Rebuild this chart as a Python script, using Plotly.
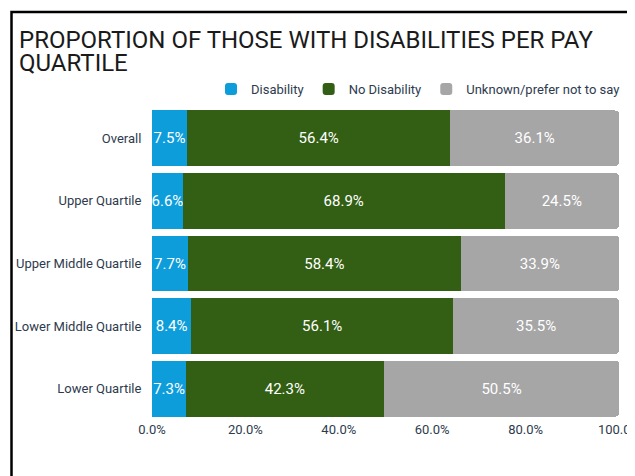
import plotly.graph_objects as go

categories = ["Overall", "Upper Quartile", "Upper Middle Quartile", "Lower Middle Quartile", "Lower Quartile"]
disability = [7.5, 6.6, 7.7, 8.4, 7.3]
no_disability = [56.4, 68.9, 58.4, 56.1, 42.3]
unknown = [36.1, 24.5, 33.9, 35.5, 50.5]
series_names = ["Disability", "No Disability", "Unknown/prefer not to say"]
colors = ["#0E9DDB", "#335F14", "#A6A6A6"]
x_ticks = [0, 20, 40, 60, 80, 100]
x_tick_labels = ["0.0%", "20.0%", "40.0%", "60.0%", "80.0%", "100.0%"]
title_lines = ["PROPORTION OF THOSE WITH DISABILITIES PER PAY", "QUARTILE"]

# the page body has an 8px margin, so the figure is 8px smaller than the window
OFF = 8
W, H = 635 - OFF, 476 - OFF
# plot area in window pixels: x 152..619, y 107..420
L, R, T, B = 152 - OFF, 635 - 619, 107 - OFF, 476 - 420
PW, PH = W - L - R, H - T - B

def px_x(x):  # window pixel -> paper coordinate
    return (x - OFF - L) / PW

def px_y(y):
    return (H - B - (y - OFF)) / PH

TXT = "#2E3B4E"

fig = go.Figure()
for name, vals, col in zip(series_names, [disability, no_disability, unknown], colors):
    fig.add_trace(go.Bar(
        y=categories, x=vals, name=name, orientation="h",
        marker=dict(color=col, line=dict(width=0)),
        text=[f"{v:.1f}%" for v in vals],
        textposition="inside", insidetextanchor="middle", textangle=0,
        constraintext="none",
        textfont=dict(family="Roboto", size=15, color="white"),
        hoverinfo="skip",
    ))

fig.update_layout(
    width=W, height=H,
    barmode="stack", bargap=0.11, barcornerradius=4,
    paper_bgcolor="white", plot_bgcolor="white",
    margin=dict(l=L, r=R, t=T, b=B, autoexpand=False),
    font=dict(family="Roboto", size=13, color=TXT),
    showlegend=True,
    legend=dict(orientation="h", x=px_x(625), xanchor="right", y=px_y(104), yanchor="bottom",
                font=dict(family="Roboto", size=13, color=TXT),
                itemwidth=30, traceorder="normal", bgcolor="rgba(0,0,0,0)"),
    xaxis=dict(range=[0, 100], tickvals=x_ticks, ticktext=x_tick_labels,
               showgrid=False, zeroline=False, showline=False, automargin=False,
               ticklabeloverflow="allow",
               ticks="", ticklen=0,
               tickfont=dict(family="Roboto", size=13, color=TXT)),
    yaxis=dict(categoryorder="array", categoryarray=categories, autorange="reversed",
               showgrid=False, zeroline=False, showline=False, automargin=False,
               ticks="outside", ticklen=7, tickcolor="rgba(0,0,0,0)",
               tickfont=dict(family="Roboto", size=13, color=TXT)),
)

for i, line in enumerate(title_lines):
    fig.add_annotation(text=line, xref="paper", yref="paper",
                       x=px_x(16.5), y=px_y(40 + 23.3 * i),
                       xanchor="left", yanchor="middle", showarrow=False, align="left",
                       font=dict(family="Roboto", size=24, color="#1A1A1A"))

# outer frame (extends beyond the visible window on the right and bottom)
fig.add_shape(type="rect", xref="paper", yref="paper",
              x0=px_x(11.5), x1=px_x(700), y0=px_y(540), y1=px_y(12),
              line=dict(color="black", width=2.5), fillcolor="rgba(0,0,0,0)", layer="above")

fig.write_html("out.html")
